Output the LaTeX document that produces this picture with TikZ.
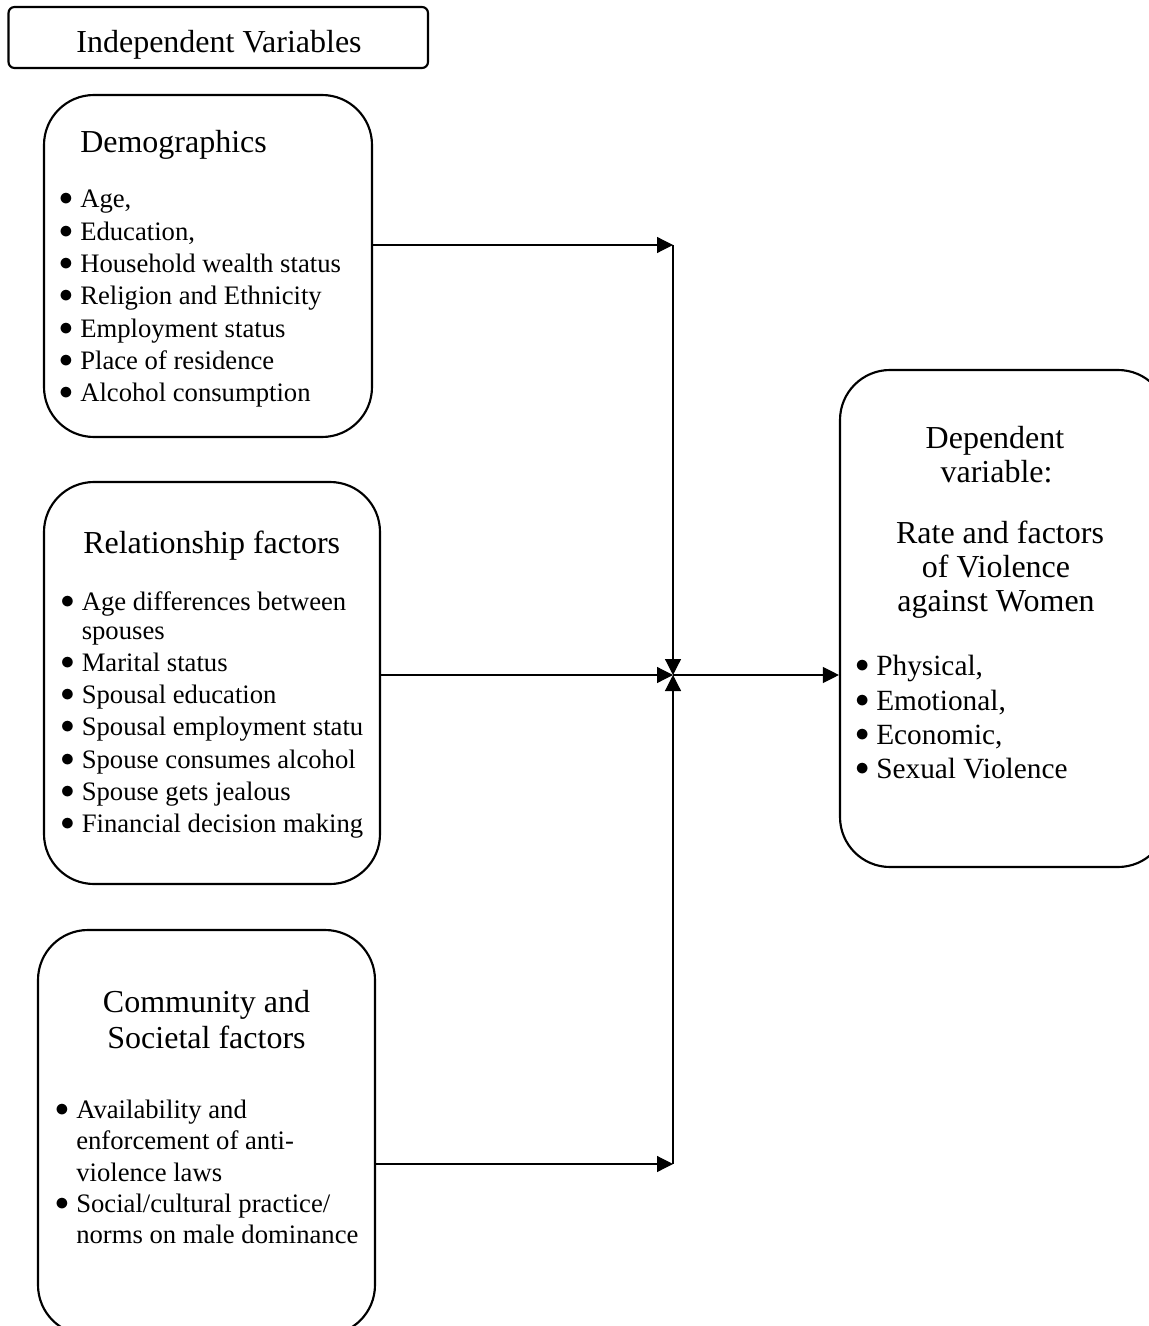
\documentclass[tikz,border=0pt]{standalone}
\usepackage{fontspec}
\setmainfont{Liberation Serif}
\usetikzlibrary{arrows.meta}
\newcommand{\bul}{\llap{\raisebox{1.5pt}{$\bullet$}\hspace{5.5pt}}}
\tikzset{
  box/.style={draw, line width=1.6pt, rounded corners=37.5pt, inner sep=0pt},
  conn/.style={line width=0.9pt, -{Triangle[length=12pt,width=12pt]}},
  head/.style={font=\fontsize{24}{28}\selectfont, inner sep=0pt},
  item/.style={font=\fontsize{20}{24}\selectfont, inner sep=0pt, anchor=base west},
  ditem/.style={font=\fontsize{22}{26}\selectfont, inner sep=0pt, anchor=base west},
}
\begin{document}
\begin{tikzpicture}[x=0.75pt,y=-0.75pt]
\useasboundingbox (0,0) rectangle (1148,1326);

% boxes
\node[box, rounded corners=4.5pt, minimum width=314.6pt, minimum height=45.75pt] (indep) at (218.25,37.5) {};
\node[box, minimum width=246pt, minimum height=256.5pt] (demo) at (208,266) {};
\node[box, minimum width=252pt, minimum height=301.5pt] (rel) at (212,683) {};
\node[box, minimum width=252.75pt, minimum height=303.75pt] (comm) at (206.5,1132.5) {};
\node[box, minimum width=246pt, minimum height=372.75pt] (dep) at (1004,618.5) {};

% titles
\node[head, anchor=base] (indep-t) at (219,52.7) {Independent Variables};
\node[head, anchor=base west] (demo-t) at (80,153) {Demographics};
\node[head, anchor=base west] (rel-t) at (83,553) {Relationship factors};
\node[head, anchor=base] (comm-t1) at (206.5,1012) {Community and};
\node[head, anchor=base] (comm-t2) at (206.5,1048) {Societal factors};
\node[head, anchor=base] (dep-t1) at (995,448) {Dependent};
\node[head, anchor=base] (dep-t2) at (996.5,482) {variable:};
\node[head, anchor=base] (dep-t3) at (1000,543) {Rate and factors};
\node[head, anchor=base] (dep-t4) at (996,577) {of Violence};
\node[head, anchor=base] (dep-t5) at (996,611) {against Women};

% demographics items
\foreach \t [count=\i] in {{Age,},{Education,},{Household wealth status},{Religion and Ethnicity},{Employment status},{Place of residence},{Alcohol consumption}}
  \node[item] (demo-\i) at (80,{208+32.3*(\i-1)}) {\bul\t};

% relationship items
\foreach \t/\y [count=\i] in {{\bul Age differences between}/610, {spouses}/639, {\bul Marital status}/671, {\bul Spousal education}/703, {\bul Spousal employment statu}/735, {\bul Spouse consumes alcohol}/768, {\bul Spouse gets jealous}/800, {\bul Financial decision making}/832}
  \node[item] (rel-\i) at (81.5,\y) {\t};

% community items
\foreach \t/\y [count=\i] in {{\bul Availability and}/1118, {enforcement of anti-}/1149, {violence laws}/1181, {\bul Social/cultural practice/}/1212, {norms on male dominance}/1243}
  \node[item] (comm-\i) at (76,\y) {\t};

% dependent items
\foreach \t/\y [count=\i] in {{Physical,}/675, {Emotional,}/710, {Economic,}/744, {Sexual Violence}/778}
  \node[ditem] (dep-\i) at (876,\y) {\llap{\raisebox{1.6pt}{$\bullet$}\hspace{5.4pt}}\t};

% connectors
\coordinate (jt) at (673,245);
\coordinate (jm) at (673,675);
\coordinate (jb) at (673,1164);
\draw[conn] (demo.east |- jt) -- (jt);
\draw[conn] (jt) -- (jm);
\draw[conn] (rel.east |- jm) -- (jm);
\draw[conn] (jb) -- (jm);
\draw[conn] (comm.east |- jb) -- (jb);
\draw[conn] (jm) -- (dep.west |- jm);
\end{tikzpicture}
\end{document}
